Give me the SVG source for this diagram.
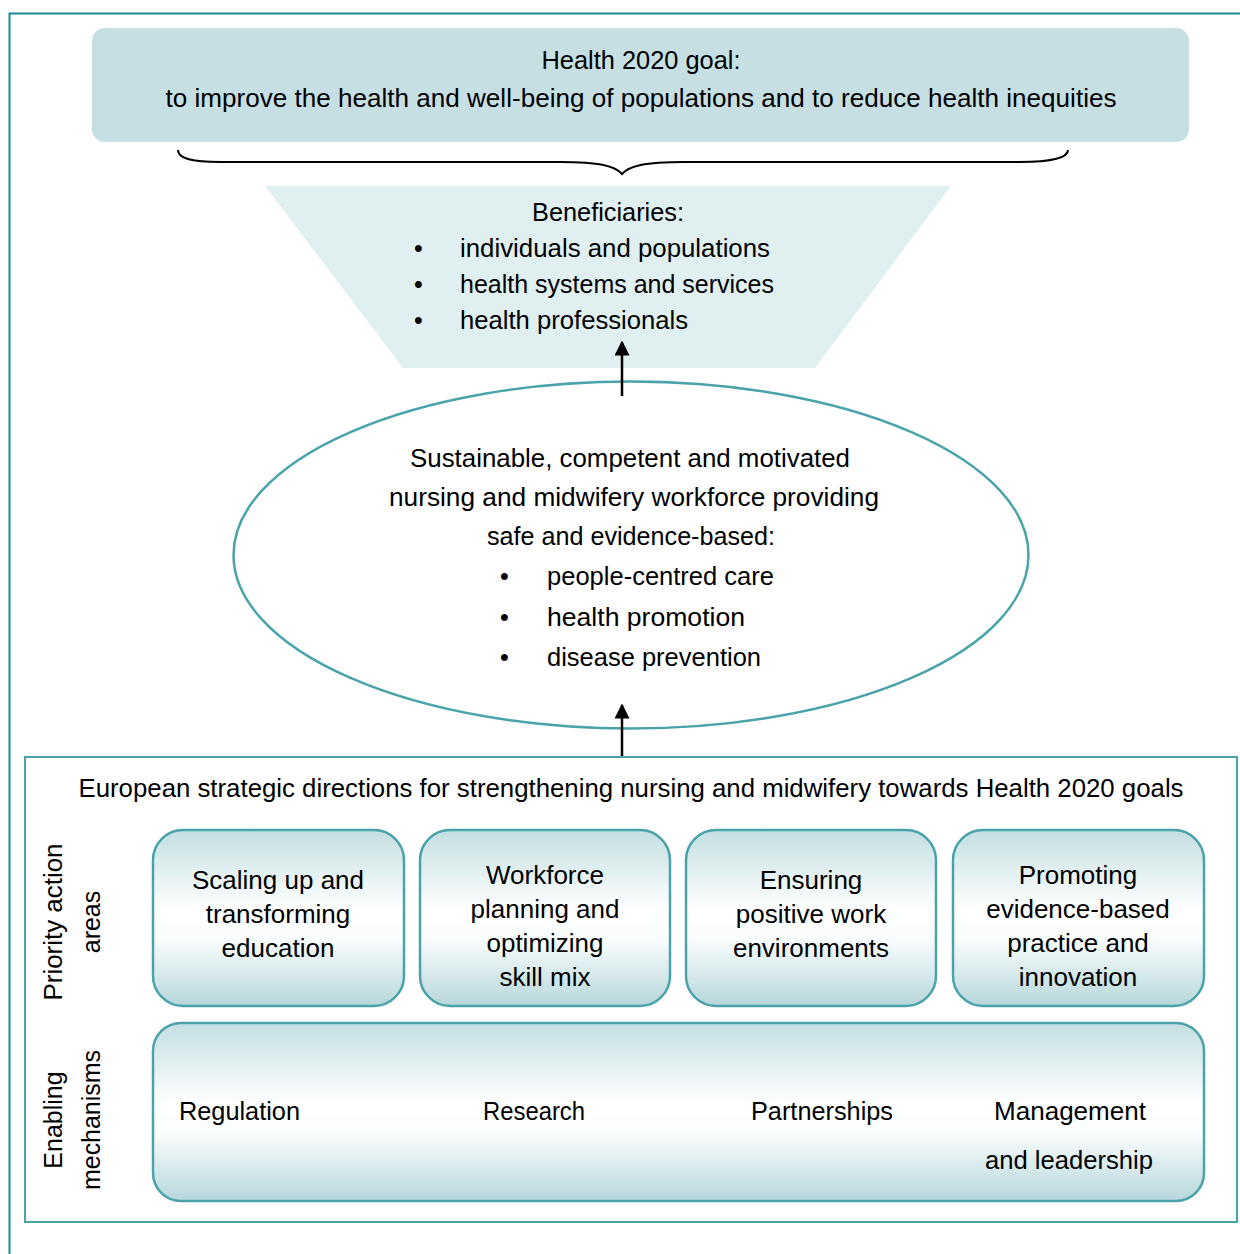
<svg xmlns="http://www.w3.org/2000/svg" width="1240" height="1254" viewBox="0 0 1240 1254">
<defs>
<linearGradient id="boxg" x1="0" y1="0" x2="0" y2="1">
<stop offset="0" stop-color="#c3dfe2"/>
<stop offset="0.45" stop-color="#ffffff"/>
<stop offset="0.62" stop-color="#fafdfd"/>
<stop offset="1" stop-color="#b6d7db"/>
</linearGradient>
<marker id="arr" viewBox="0 0 10 10" refX="9" refY="5" markerWidth="6" markerHeight="6" orient="auto" markerUnits="strokeWidth">
<path d="M0,0 L10,5 L0,10 Z" fill="#000"/>
</marker>
<style>
text{font-family:"Liberation Sans",Arial,sans-serif;fill:#000}
.t25{font-size:25px}
.t26{font-size:26px}
.mid{text-anchor:middle}
.box{fill:url(#boxg);stroke:#4ba3aa;stroke-width:2.5}
.teal{fill:none;stroke:#4ba3aa}
</style>
</defs>
<rect width="1240" height="1254" fill="#fff"/>
<!-- outer frame -->
<path d="M1240,13.5 L9.5,13.5 L9.5,1254" fill="none" stroke="#168b90" stroke-width="2"/>

<g id="goal">
<rect x="92" y="28" width="1097" height="114" rx="13" fill="#c5dfe3"/>
<text class="t25 mid" x="641" y="69" textLength="199" lengthAdjust="spacingAndGlyphs">Health 2020 goal:</text>
<text class="t25 mid" x="641" y="107" textLength="951" lengthAdjust="spacingAndGlyphs">to improve the health and well-being of populations and to reduce health inequities</text>
</g>

<g id="brace">
<path d="M178,150 C178,158 190,162 220,162 L560,162 C600,162 615,166 622,174 C629,166 644,162 684,162 L1020,162 C1050,162 1068,158 1068,150" fill="none" stroke="#000" stroke-width="2"/>
</g>

<g id="beneficiaries">
<polygon points="265,186 951,186 815,368 403,368" fill="#e0eff0"/>
<text class="t25 mid" x="608" y="221" textLength="152" lengthAdjust="spacingAndGlyphs">Beneficiaries:</text>
<text class="t25" x="414" y="257">•</text>
<text class="t25" x="460" y="257" textLength="310" lengthAdjust="spacingAndGlyphs">individuals and populations</text>
<text class="t25" x="414" y="293">•</text>
<text class="t25" x="460" y="293" textLength="314" lengthAdjust="spacingAndGlyphs">health systems and services</text>
<text class="t25" x="414" y="329">•</text>
<text class="t25" x="460" y="329" textLength="228" lengthAdjust="spacingAndGlyphs">health professionals</text>
</g>

<g id="workforce">
<ellipse cx="631" cy="555" rx="397.5" ry="173.5" fill="#fff" stroke="#4ba3aa" stroke-width="2.5"/>
<text class="t25 mid" x="630" y="467" textLength="440" lengthAdjust="spacingAndGlyphs">Sustainable, competent and motivated</text>
<text class="t25 mid" x="634" y="506" textLength="490" lengthAdjust="spacingAndGlyphs">nursing and midwifery workforce providing</text>
<text class="t25 mid" x="631" y="545" textLength="288" lengthAdjust="spacingAndGlyphs">safe and evidence-based:</text>
<text class="t25" x="500" y="585">•</text>
<text class="t25" x="547" y="585" textLength="227" lengthAdjust="spacingAndGlyphs">people-centred care</text>
<text class="t25" x="500" y="626">•</text>
<text class="t25" x="547" y="626" textLength="198" lengthAdjust="spacingAndGlyphs">health promotion</text>
<text class="t25" x="500" y="666">•</text>
<text class="t25" x="547" y="666" textLength="214" lengthAdjust="spacingAndGlyphs">disease prevention</text>
</g>

<g id="connectors" stroke="#000" stroke-width="2.5" fill="none">
<line x1="622" y1="396" x2="622" y2="342" marker-end="url(#arr)"/>
<line x1="622" y1="758" x2="622" y2="705" marker-end="url(#arr)"/>
</g>

<g id="directions">
<rect x="25" y="757" width="1212" height="465" fill="none" stroke="#4ba3aa" stroke-width="2"/>
<text class="t25 mid" x="631" y="797" textLength="1105" lengthAdjust="spacingAndGlyphs">European strategic directions for strengthening nursing and midwifery towards Health 2020 goals</text>
</g>

<g id="label-priority">
<text class="t25 mid" transform="translate(62,922) rotate(-90)" textLength="157" lengthAdjust="spacingAndGlyphs">Priority action</text>
<text class="t25 mid" transform="translate(100,922) rotate(-90)">areas</text>
</g>
<g id="label-enabling">
<text class="t25 mid" transform="translate(62,1120) rotate(-90)">Enabling</text>
<text class="t25 mid" transform="translate(100,1120) rotate(-90)" textLength="140" lengthAdjust="spacingAndGlyphs">mechanisms</text>
</g>

<g id="pa-education">
<rect class="box" x="153" y="830" width="251" height="176" rx="30"/>
<text class="t26 mid" x="278" y="889">Scaling up and</text>
<text class="t26 mid" x="278" y="923">transforming</text>
<text class="t26 mid" x="278" y="957">education</text>
</g>
<g id="pa-workforce">
<rect class="box" x="420" y="830" width="250" height="176" rx="30"/>
<text class="t26 mid" x="545" y="884">Workforce</text>
<text class="t26 mid" x="545" y="918">planning and</text>
<text class="t26 mid" x="545" y="952">optimizing</text>
<text class="t26 mid" x="545" y="986">skill mix</text>
</g>
<g id="pa-environments">
<rect class="box" x="686" y="830" width="250" height="176" rx="30"/>
<text class="t26 mid" x="811" y="889">Ensuring</text>
<text class="t26 mid" x="811" y="923">positive work</text>
<text class="t26 mid" x="811" y="957">environments</text>
</g>
<g id="pa-evidence">
<rect class="box" x="953" y="830" width="251" height="176" rx="30"/>
<text class="t26 mid" x="1078" y="884">Promoting</text>
<text class="t26 mid" x="1078" y="918">evidence-based</text>
<text class="t26 mid" x="1078" y="952">practice and</text>
<text class="t26 mid" x="1078" y="986">innovation</text>
</g>

<g id="enabling">
<rect class="box" x="153" y="1023" width="1051" height="178" rx="28"/>
<text class="t25" x="179" y="1120" textLength="121" lengthAdjust="spacingAndGlyphs">Regulation</text>
<text class="t25" x="483" y="1120" textLength="102" lengthAdjust="spacingAndGlyphs">Research</text>
<text class="t25" x="751" y="1120" textLength="142" lengthAdjust="spacingAndGlyphs">Partnerships</text>
<text class="t25 mid" x="1070" y="1120" textLength="152" lengthAdjust="spacingAndGlyphs">Management</text>
<text class="t25 mid" x="1069" y="1169" textLength="168" lengthAdjust="spacingAndGlyphs">and leadership</text>
</g>
</svg>
